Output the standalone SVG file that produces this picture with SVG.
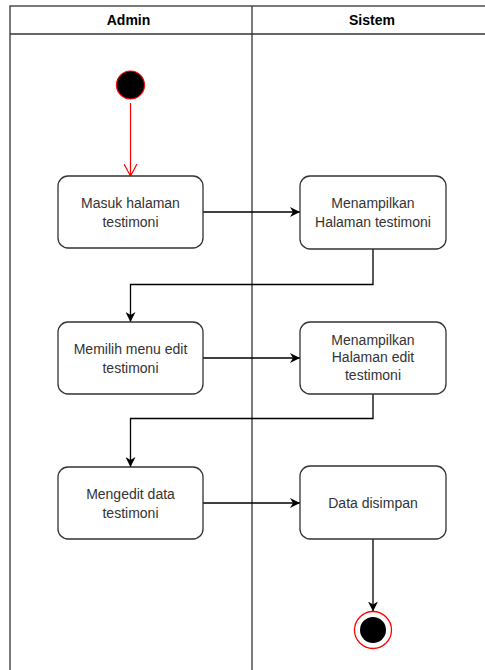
<svg xmlns="http://www.w3.org/2000/svg" width="485" height="670" viewBox="0 0 485 670">
<style>
.lane{fill:none;stroke:#333;stroke-width:1.3}
.node{fill:#fff;stroke:#333;stroke-width:1.3}
.t{font-family:"Liberation Sans",Arial,sans-serif;font-size:14px;fill:#333;text-anchor:middle}
.h{font-family:"Liberation Sans",Arial,sans-serif;font-size:14px;font-weight:bold;fill:#000;text-anchor:middle}
.c{fill:none;stroke:#000;stroke-width:1.3}
</style>
<defs>
<marker id="ar" viewBox="0 0 10 10" refX="10" refY="5" markerWidth="10" markerHeight="10" markerUnits="userSpaceOnUse" orient="auto">
<path d="M0,0 L10,5 L0,10 L3,5 Z" fill="#000"/>
</marker>
<marker id="ro" viewBox="0 0 12 14" refX="12" refY="7" markerWidth="12" markerHeight="14" markerUnits="userSpaceOnUse" orient="auto">
<path d="M0,0.5 L12,7 L0,13.5" fill="none" stroke="#ff0000" stroke-width="1.2"/>
</marker>
</defs>
<g id="lanes">
<rect class="lane" x="10" y="6" width="490" height="680"/>
<line class="lane" x1="10" y1="34" x2="490" y2="34"/>
<line class="lane" x1="252" y1="6" x2="252" y2="680"/>
<text class="h" x="128.5" y="25">Admin</text>
<text class="h" x="372" y="25">Sistem</text>
</g>
<g id="connectors">
<line x1="130.5" y1="103" x2="130.5" y2="176" stroke="#ff0000" stroke-width="1.2" marker-end="url(#ro)"/>
<path class="c" d="M203,212 H300" marker-end="url(#ar)"/>
<path class="c" d="M373,249 V284.5 H130.5 V322" marker-end="url(#ar)"/>
<path class="c" d="M203,358 H300" marker-end="url(#ar)"/>
<path class="c" d="M373,394 V418.5 H130.5 V467" marker-end="url(#ar)"/>
<path class="c" d="M203,503 H300" marker-end="url(#ar)"/>
<path class="c" d="M373,539 V611.5" marker-end="url(#ar)"/>
</g>
<g id="start">
<circle cx="130.5" cy="85" r="14" fill="#000" stroke="#ff0000" stroke-width="1.2"/>
</g>
<g id="n1">
<rect class="node" x="58" y="176" width="145" height="72" rx="10"/>
<text class="t" x="130.5" y="208">Masuk halaman</text>
<text class="t" x="130.5" y="227">testimoni</text>
</g>
<g id="n2">
<rect class="node" x="300" y="176" width="146" height="73" rx="10"/>
<text class="t" x="373" y="208">Menampilkan</text>
<text class="t" x="373" y="227">Halaman testimoni</text>
</g>
<g id="n3">
<rect class="node" x="58" y="322" width="145" height="72" rx="10"/>
<text class="t" x="130.5" y="354">Memilih menu edit</text>
<text class="t" x="130.5" y="373">testimoni</text>
</g>
<g id="n4">
<rect class="node" x="300" y="322" width="146" height="72" rx="10"/>
<text class="t" x="373" y="345">Menampilkan</text>
<text class="t" x="373" y="362">Halaman edit</text>
<text class="t" x="373" y="380">testimoni</text>
</g>
<g id="n5">
<rect class="node" x="58" y="467" width="145" height="72" rx="10"/>
<text class="t" x="130.5" y="499">Mengedit data</text>
<text class="t" x="130.5" y="518">testimoni</text>
</g>
<g id="n6">
<rect class="node" x="300" y="466" width="146" height="73" rx="10"/>
<text class="t" x="373" y="508">Data disimpan</text>
</g>
<g id="end">
<circle cx="373" cy="630" r="18.5" fill="#fff" stroke="#ff0000" stroke-width="1.3"/>
<circle cx="373" cy="630" r="13" fill="#000"/>
</g>
</svg>
